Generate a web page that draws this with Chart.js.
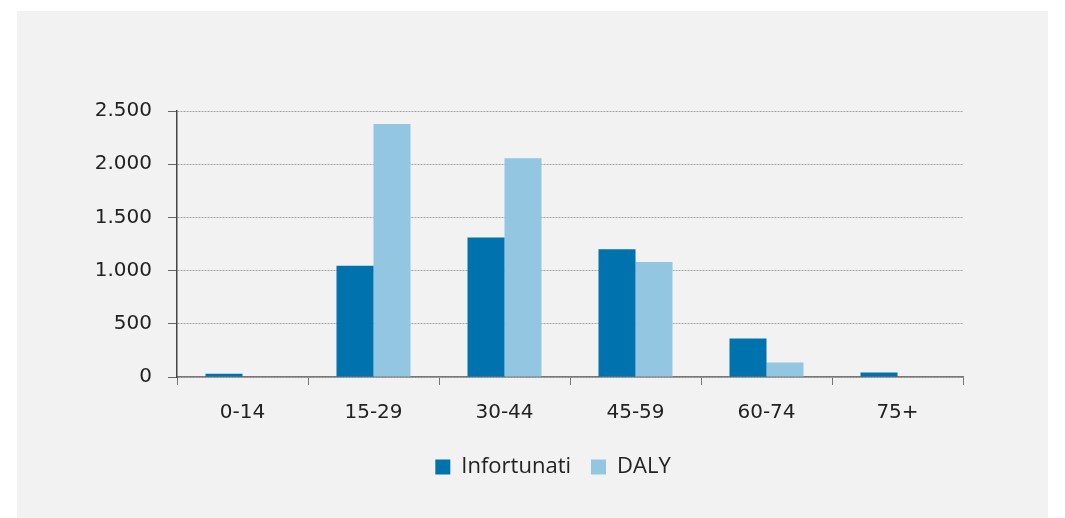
<!DOCTYPE html>
<html>
<head>
<meta charset="utf-8">
<script src="https://cdn.jsdelivr.net/npm/chart.js@4"></script>
<style>
  html, body { margin: 0; padding: 0; background: #fff; }
  #wrap { position: absolute; left: 17px; top: 11px; width: 1031px; height: 507px; background: #f2f2f2; }
</style>
</head>
<body>
<div id="wrap"><canvas id="myChart" width="1031" height="507"></canvas></div>
<script>
const categories = ["0-14", "15-29", "30-44", "45-59", "60-74", "75+"];
const infortunati = [30, 1045, 1310, 1200, 362, 42];
const daly = [0, 2378, 2057, 1080, 136, 0];
const yTickLabels = ["0", "500", "1.000", "1.500", "2.000", "2.500"];

const ctx = document.getElementById("myChart");

// nudge legend to the right, the original is centred under the whole panel
const legendShift = {
    id: "legendShift",
    beforeDraw(chart) {
        chart.legend.left += 63;
        chart.legend.right += 63;
    },
    afterDraw(chart) {
        chart.legend.left -= 63;
        chart.legend.right -= 63;
    },
};

new Chart(ctx, {
    type: "bar",
    data: {
        labels: categories,
        datasets: [{
            label: "Infortunati",
            data: infortunati,
            backgroundColor: "#0073ae",
            categoryPercentage: 0.565,
            barPercentage: 1,
        }, {
            label: "DALY",
            data: daly,
            backgroundColor: "#93c6e1",
            categoryPercentage: 0.565,
            barPercentage: 1,
        }],
    },
    plugins: [legendShift],
    options: {
        responsive: false,
        animation: false,
        layout: {
            padding: { left: 0, right: 85, top: 100, bottom: 30 },
        },
        plugins: {
            tooltip: { enabled: false },
            legend: {
                position: "bottom",
                labels: {
                    boxWidth: 15,
                    boxHeight: 15,
                    padding: 20,
                    color: "#222",
                    font: { family: "'Open Sans'", size: 22 },
                },
            },
        },
        scales: {
            x: {
                grid: {
                    offset: true,
                    drawOnChartArea: false,
                    tickLength: 8,
                    tickColor: "#777",
                },
                border: { color: "#777", width: 1.5 },
                ticks: {
                    padding: 16,
                    color: "#222",
                    font: { family: "'DejaVu Sans'", size: 20 },
                },
                afterFit: (scale) => { scale.height = 59; },
            },
            y: {
                min: 0,
                max: 2500,
                grid: {
                    color: "#a6a6a6",
                    tickLength: 9,
                    tickColor: "#666",
                    tickBorderDash: [],
                },
                border: { color: "#444", width: 1.5, dash: [2, 1] },
                ticks: {
                    stepSize: 500,
                    padding: 16,
                    color: "#222",
                    font: { family: "'DejaVu Sans'", size: 20 },
                    callback: (v) => yTickLabels[v / 500],
                },
                afterFit: (scale) => { scale.width = 160; },
            },
        },
    },
});
</script>
</body>
</html>
